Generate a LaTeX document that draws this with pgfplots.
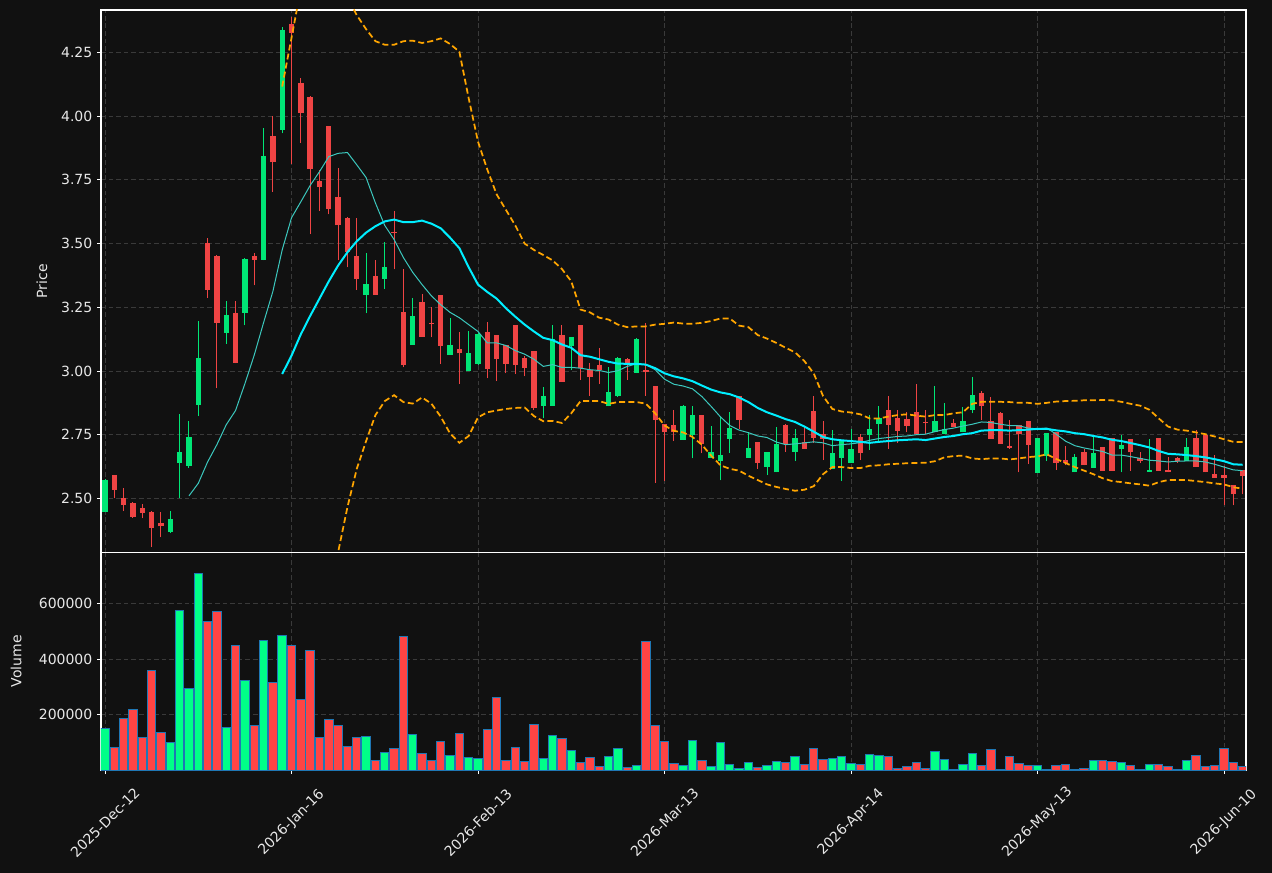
\documentclass[border=0pt]{standalone}
\usepackage{fontspec}
\setmainfont{DejaVu Sans}
\usepackage{pgfplots}
\pgfplotsset{compat=1.18}
\usepackage{pgfplotstable}
\definecolor{bg}{HTML}{111111}
\definecolor{upc}{HTML}{00E676}
\definecolor{dnc}{HTML}{EF4444}
\definecolor{vup}{HTML}{00FF88}
\definecolor{vdn}{HTML}{FF4444}
\definecolor{vedge}{HTML}{1F77B4}
\definecolor{gridc}{HTML}{3A3A3A}
\definecolor{maA}{HTML}{3CC8BE}
\definecolor{maB}{HTML}{00EEFF}
\definecolor{bband}{HTML}{FFA500}
\definecolor{txt}{HTML}{E8E8E8}

\pgfplotstableread{
x o h l c
0 2.448 2.575 2.445 2.572
7 2.369 2.450 2.364 2.420
8 2.640 2.830 2.500 2.681
9 2.628 2.803 2.621 2.740
10 2.868 3.198 2.823 3.051
13 3.151 3.273 3.107 3.219
15 3.228 3.445 3.179 3.440
17 3.437 3.953 3.434 3.843
19 3.946 4.348 3.932 4.337
28 3.299 3.462 3.226 3.342
30 3.362 3.505 3.322 3.407
33 3.103 3.288 3.103 3.216
37 3.063 3.208 3.063 3.101
39 2.998 3.155 2.998 3.070
40 3.029 3.150 3.025 3.145
47 2.864 2.936 2.814 2.902
48 2.864 3.179 2.864 3.125
50 3.097 3.133 3.005 3.133
54 2.861 3.014 2.861 2.916
55 2.900 3.055 2.898 3.052
57 2.994 3.128 2.992 3.125
62 2.729 2.868 2.729 2.861
63 2.750 2.861 2.657 2.827
65 2.660 2.786 2.660 2.684
66 2.647 2.820 2.571 2.671
67 2.735 2.841 2.680 2.776
69 2.660 2.755 2.660 2.698
71 2.625 2.681 2.591 2.681
72 2.602 2.780 2.602 2.714
74 2.684 2.773 2.647 2.739
78 2.616 2.770 2.616 2.677
79 2.660 2.728 2.568 2.728
80 2.640 2.773 2.640 2.695
82 2.750 2.827 2.691 2.773
83 2.793 2.861 2.725 2.814
89 2.759 2.943 2.759 2.803
90 2.752 2.875 2.752 2.773
92 2.759 2.857 2.759 2.803
93 2.848 2.975 2.834 2.905
100 2.600 2.736 2.600 2.736
101 2.668 2.755 2.646 2.755
104 2.602 2.673 2.602 2.662
106 2.620 2.750 2.620 2.677
109 2.695 2.750 2.602 2.711
112 2.605 2.732 2.605 2.613
116 2.647 2.736 2.647 2.700
}\upT

\pgfplotstableread{
x o h l c
1 2.591 2.591 2.500 2.534
2 2.501 2.540 2.450 2.475
3 2.482 2.485 2.425 2.428
4 2.463 2.477 2.422 2.444
5 2.447 2.449 2.309 2.385
6 2.403 2.445 2.347 2.390
11 3.503 3.522 3.287 3.318
12 3.451 3.455 2.932 3.189
14 3.227 3.273 3.030 3.032
16 3.451 3.462 3.336 3.437
18 3.921 3.999 3.704 3.819
20 4.362 4.389 3.813 4.328
21 4.130 4.148 3.895 4.014
22 4.075 4.078 3.537 3.794
23 3.745 3.789 3.629 3.723
24 3.961 3.963 3.614 3.636
25 3.682 3.798 3.434 3.571
26 3.601 3.603 3.407 3.466
27 3.451 3.601 3.318 3.362
29 3.373 3.434 3.299 3.299
31 3.547 3.628 3.399 3.542
32 3.230 3.399 3.014 3.025
34 3.271 3.301 3.134 3.134
35 3.188 3.250 3.132 3.184
36 3.298 3.298 3.028 3.099
38 3.087 3.152 2.950 3.069
41 3.153 3.193 2.971 3.009
42 3.141 3.141 2.960 3.048
43 3.101 3.101 2.991 3.028
44 3.181 3.181 2.988 3.025
45 3.052 3.059 2.979 3.011
46 3.078 3.078 2.848 2.855
49 3.141 3.179 2.957 2.957
51 3.181 3.181 2.966 3.011
52 3.005 3.032 2.902 2.976
53 3.025 3.091 2.950 3.002
56 3.046 3.052 2.966 3.028
58 3.002 3.189 2.902 2.996
59 2.941 2.941 2.561 2.807
60 2.793 2.793 2.568 2.759
61 2.790 2.845 2.725 2.759
64 2.827 2.827 2.677 2.714
68 2.900 2.900 2.772 2.807
70 2.721 2.721 2.616 2.640
73 2.789 2.793 2.684 2.714
75 2.721 2.780 2.695 2.695
76 2.844 2.900 2.718 2.739
77 2.752 2.804 2.650 2.735
81 2.741 2.752 2.650 2.677
84 2.848 2.900 2.695 2.789
85 2.814 2.845 2.718 2.766
86 2.810 2.841 2.759 2.785
87 2.841 2.950 2.750 2.752
88 2.800 2.845 2.752 2.795
91 2.796 2.810 2.780 2.780
94 2.913 2.920 2.807 2.861
95 2.803 2.896 2.735 2.735
96 2.834 2.841 2.714 2.714
97 2.707 2.807 2.695 2.698
98 2.790 2.790 2.602 2.752
99 2.803 2.803 2.636 2.711
102 2.762 2.762 2.612 2.640
103 2.650 2.705 2.630 2.640
105 2.681 2.695 2.630 2.630
107 2.700 2.700 2.609 2.609
108 2.739 2.739 2.609 2.609
110 2.732 2.732 2.609 2.681
111 2.657 2.681 2.640 2.647
113 2.739 2.739 2.609 2.609
114 2.610 2.661 2.602 2.602
115 2.657 2.661 2.640 2.647
117 2.739 2.770 2.625 2.625
118 2.750 2.753 2.602 2.602
119 2.597 2.670 2.582 2.582
120 2.593 2.627 2.473 2.582
121 2.552 2.552 2.473 2.516
122 2.612 2.612 2.516 2.589
}\dnT

\pgfplotstableread{
x v
0 150150
7 99700
8 575400
9 294300
10 708700
13 153800
15 323100
17 467300
19 485300
28 121300
30 63700
33 128500
37 52900
39 45600
40 42000
47 42000
48 124900
50 70900
54 49300
55 78100
57 16800
62 16800
63 106900
65 13200
66 99700
67 20400
68 6000
69 27600
71 16800
72 31200
74 49300
78 42000
79 49300
80 24000
82 56500
83 52900
89 67300
90 38400
92 20400
93 60100
100 16800
101 2400
106 34800
109 27600
112 20400
116 34800
}\vupT

\pgfplotstableread{
x v
1 81700
2 186200
3 218600
4 117700
5 359200
6 135700
11 535700
12 571800
14 449200
16 161000
18 315900
20 449200
21 254700
22 431200
23 117700
24 182600
25 161000
26 85300
27 117700
29 34800
31 78100
32 481700
34 60100
35 34800
36 103300
38 132100
41 146500
42 261900
43 34800
44 81700
45 31200
46 164600
49 114100
51 27600
52 45600
53 13200
56 9600
58 463700
59 161000
60 103300
61 24000
64 34800
70 9600
73 27600
75 20400
76 78100
77 38400
81 20400
84 49300
85 6000
86 13200
87 27600
88 6000
91 2400
94 16800
95 74500
96 2400
97 49300
98 24000
99 16800
102 16800
103 20400
104 1000
105 6000
107 34800
108 31200
110 16800
111 2400
113 20400
114 13200
115 2400
117 52900
118 13200
119 16800
120 78100
121 27600
122 13200
}\vdnT

\pgfplotstableread{
x y
9 2.510
10 2.559
11 2.643
12 2.711
13 2.789
14 2.845
15 2.950
16 3.062
17 3.189
18 3.312
19 3.475
20 3.601
21 3.664
22 3.728
23 3.782
24 3.841
25 3.854
26 3.857
27 3.809
28 3.759
29 3.659
30 3.571
31 3.516
32 3.445
33 3.387
34 3.339
35 3.295
36 3.260
37 3.230
38 3.209
39 3.182
40 3.155
41 3.110
42 3.110
43 3.100
44 3.080
45 3.066
46 3.046
47 3.018
48 3.025
49 3.014
50 3.014
51 3.011
52 3.005
53 3.002
54 2.994
55 3.001
56 3.018
57 3.028
58 3.025
59 3.005
60 2.968
61 2.948
62 2.941
63 2.930
64 2.900
65 2.861
66 2.820
67 2.786
68 2.768
69 2.758
70 2.745
71 2.739
72 2.721
73 2.711
74 2.714
75 2.718
76 2.722
77 2.718
78 2.707
79 2.711
80 2.714
81 2.719
82 2.728
83 2.735
84 2.739
85 2.743
86 2.745
87 2.750
88 2.752
89 2.762
90 2.770
91 2.776
92 2.784
93 2.791
94 2.800
95 2.798
96 2.791
97 2.786
98 2.785
99 2.776
100 2.773
101 2.776
102 2.752
103 2.725
104 2.707
105 2.698
106 2.691
107 2.684
108 2.670
109 2.670
110 2.664
111 2.657
112 2.650
113 2.647
114 2.643
115 2.646
116 2.647
117 2.647
118 2.643
119 2.634
120 2.623
121 2.612
122 2.609
}\maAT

\pgfplotstableread{
x y
19 2.988
20 3.060
21 3.144
22 3.216
23 3.284
24 3.352
25 3.414
26 3.466
27 3.509
28 3.543
29 3.568
30 3.587
31 3.594
32 3.584
33 3.584
34 3.590
35 3.578
36 3.560
37 3.523
38 3.482
39 3.407
40 3.339
41 3.310
42 3.284
43 3.246
44 3.213
45 3.182
46 3.155
47 3.130
48 3.121
49 3.104
50 3.091
51 3.062
52 3.056
53 3.046
54 3.036
55 3.029
56 3.028
57 3.028
58 3.025
59 3.011
60 2.991
61 2.979
62 2.971
63 2.960
64 2.943
65 2.927
66 2.916
67 2.909
68 2.896
69 2.878
70 2.855
71 2.838
72 2.825
73 2.811
74 2.800
75 2.782
76 2.762
77 2.741
78 2.732
79 2.728
80 2.725
81 2.722
82 2.718
83 2.722
84 2.725
85 2.728
86 2.730
87 2.732
88 2.729
89 2.735
90 2.741
91 2.745
92 2.752
93 2.756
94 2.766
95 2.768
96 2.768
97 2.766
98 2.768
99 2.770
100 2.773
101 2.773
102 2.767
103 2.763
104 2.756
105 2.752
106 2.745
107 2.739
108 2.730
109 2.725
110 2.717
111 2.709
112 2.700
113 2.686
114 2.675
115 2.673
116 2.670
117 2.666
118 2.661
119 2.654
120 2.646
121 2.634
122 2.632
}\maBT

\pgfplotstableread{
x up lo
19 4.116 1.86
20 4.307 1.82
21 4.50 1.78
22 4.58 1.85
23 4.62 1.95
24 4.62 2.08
25 4.54 2.289
26 4.466 2.466
27 4.396 2.616
28 4.341 2.725
29 4.294 2.827
30 4.280 2.882
31 4.280 2.905
32 4.294 2.878
33 4.296 2.872
34 4.287 2.896
35 4.294 2.872
36 4.305 2.821
37 4.283 2.755
38 4.253 2.718
39 4.070 2.745
40 3.900 2.818
41 3.790 2.838
42 3.693 2.845
43 3.632 2.851
44 3.571 2.855
45 3.500 2.857
46 3.475 2.823
47 3.455 2.803
48 3.434 2.804
49 3.400 2.796
50 3.352 2.834
51 3.241 2.882
52 3.230 2.882
53 3.209 2.882
54 3.202 2.871
55 3.182 2.878
56 3.172 2.878
57 3.175 2.878
58 3.175 2.872
59 3.182 2.834
60 3.185 2.786
61 3.190 2.765
62 3.186 2.759
63 3.185 2.741
64 3.189 2.711
65 3.196 2.668
66 3.206 2.630
67 3.206 2.616
68 3.178 2.609
69 3.172 2.589
70 3.141 2.572
71 3.127 2.555
72 3.110 2.545
73 3.091 2.537
74 3.073 2.530
75 3.039 2.534
76 2.991 2.548
77 2.902 2.595
78 2.851 2.623
79 2.841 2.623
80 2.837 2.619
81 2.830 2.619
82 2.814 2.628
83 2.814 2.630
84 2.821 2.634
85 2.827 2.636
86 2.830 2.638
87 2.825 2.639
88 2.821 2.640
89 2.827 2.646
90 2.827 2.661
91 2.834 2.666
92 2.838 2.668
93 2.871 2.657
94 2.879 2.654
95 2.879 2.657
96 2.879 2.657
97 2.878 2.653
98 2.875 2.657
99 2.875 2.662
100 2.871 2.665
101 2.875 2.673
102 2.880 2.655
103 2.882 2.639
104 2.883 2.623
105 2.885 2.609
106 2.885 2.595
107 2.886 2.579
108 2.885 2.568
109 2.879 2.564
110 2.871 2.559
111 2.864 2.555
112 2.848 2.550
113 2.814 2.564
114 2.782 2.572
115 2.770 2.572
116 2.766 2.572
117 2.759 2.568
118 2.752 2.564
119 2.743 2.559
120 2.732 2.555
121 2.722 2.544
122 2.721 2.538
}\bbT

\pgfplotsset{
  darkax/.style={
    scale only axis, width=858.75pt,
    xmin=-0.43, xmax=122.36,
    axis background/.style={fill=bg},
    axis line style={white, line width=0.8pt},
    tick style={white, line width=0.6pt},
    tick align=outside, major tick length=3pt,
    tick pos=left,
    xtick={0,20,...,120},
    grid=major,
    major grid style={gridc, dash pattern=on 3.5pt off 2.2pt, line width=0.6pt},
    ticklabel style={txt, font=\fontsize{10.5}{12.6}\selectfont},
    label style={txt, font=\fontsize{10.5}{12.6}\selectfont},
  },
  wick/.style={draw=none, mark=none, error bars/.cd, y dir=plus, y explicit, error mark=none,
    error bar style={draw=#1, line width=0.75pt}},
  body/.style={draw=none, mark=none, error bars/.cd, y dir=plus, y explicit, error mark=none,
    error bar style={draw=#1, line width=4pt}},
}

\begin{document}
\begin{tikzpicture}
\fill[bg] (0pt,0pt) rectangle (954pt,-654.75pt);

\begin{axis}[darkax,
  at={(75.75pt,-7.5pt)}, anchor=north west,
  height=406.9pt,
  ymin=2.2877, ymax=4.4164,
  ytick={2.5,2.75,3,3.25,3.5,3.75,4,4.25},
  y tick label style={/pgf/number format/.cd, fixed, fixed zerofill, precision=2, assume math mode=true},
  xticklabels={},
  ylabel={Price},
  ylabel shift=3.5pt,
]
\addplot[wick=upc] table[x=x, y=l, y error plus expr={\thisrow{h}-\thisrow{l}}] {\upT};
\addplot[wick=dnc] table[x=x, y=l, y error plus expr={\thisrow{h}-\thisrow{l}}] {\dnT};
\addplot[body=upc] table[x=x, y=o, y error plus expr={\thisrow{c}-\thisrow{o}}] {\upT};
\addplot[body=dnc] table[x=x, y=c, y error plus expr={\thisrow{o}-\thisrow{c}}] {\dnT};
\addplot[maA, line width=0.75pt, mark=none] table[x=x, y=y] {\maAT};
\addplot[maB, line width=1.5pt, mark=none] table[x=x, y=y] {\maBT};
\addplot[bband, line width=1.3pt, dash pattern=on 4.5pt off 2.4pt, mark=none] table[x=x, y=up] {\bbT};
\addplot[bband, line width=1.3pt, dash pattern=on 4.5pt off 2.4pt, mark=none] table[x=x, y=lo] {\bbT};
\end{axis}

\begin{axis}[darkax,
  at={(75.75pt,-414.4pt)}, anchor=north west,
  height=163.1pt,
  ymin=0, ymax=783100,
  ytick={200000,400000,600000},
  scaled y ticks=false,
  y tick label style={/pgf/number format/.cd, fixed, 1000 sep={}, assume math mode=true},
  xticklabels={2025-Dec-12,2026-Jan-16,2026-Feb-13,2026-Mar-13,2026-Apr-14,2026-May-13,2026-Jun-10},
  x tick label style={yshift=-36.4pt, rotate=45, anchor=center},
  ylabel={Volume},
  ylabel shift=6pt,
]
\addplot[ybar, bar width=0.9, bar shift=0pt, fill=vup, draw=vedge, line width=0.75pt] table[x=x, y=v] {\vupT};
\addplot[ybar, bar width=0.9, bar shift=0pt, fill=vdn, draw=vedge, line width=0.75pt] table[x=x, y=v] {\vdnT};
\end{axis}

\pgfresetboundingbox
\path[use as bounding box] (0pt,0pt) rectangle (954pt,-654.75pt);
\end{tikzpicture}
\end{document}
